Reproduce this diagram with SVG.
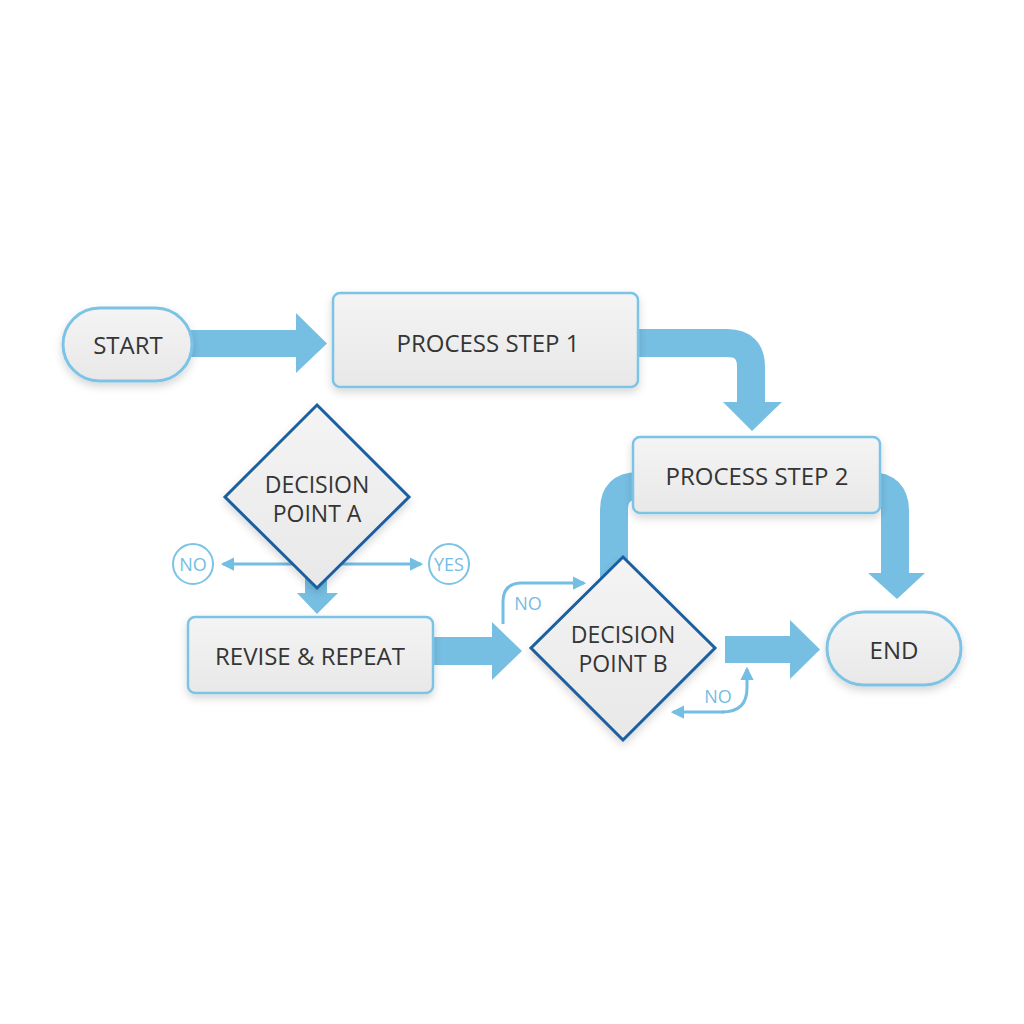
<svg xmlns="http://www.w3.org/2000/svg" width="1024" height="1024" viewBox="0 0 1024 1024">
<defs>
<linearGradient id="nodeFill" x1="0" y1="0" x2="0" y2="1">
<stop offset="0" stop-color="#f4f4f4"/>
<stop offset="1" stop-color="#e8e8e9"/>
</linearGradient>
<filter id="shadow" x="-20%" y="-20%" width="140%" height="150%">
<feDropShadow dx="0" dy="4" stdDeviation="4" flood-color="#000" flood-opacity="0.16"/>
</filter>
<marker id="ah" viewBox="0 0 12 12" refX="10" refY="6" markerWidth="4.5" markerHeight="4.5" orient="auto-start-reverse" markerUnits="strokeWidth">
<path d="M0 0 L12 6 L0 12 Z" fill="#74bde3"/>
</marker>
</defs>
<style>
.bg{fill:#ffffff}
.term{fill:url(#nodeFill);stroke:#7cc3e6;stroke-width:3;filter:url(#shadow)}
.proc{fill:url(#nodeFill);stroke:#7cc3e6;stroke-width:2.5;filter:url(#shadow)}
.dec{fill:url(#nodeFill);stroke:#1b5e9f;stroke-width:3;filter:url(#shadow)}
.lbl{font-family:"Open Sans","Noto Sans","Liberation Sans",sans-serif;font-size:24px;fill:#353535;text-anchor:middle;dominant-baseline:central}
.dlbl{font-family:"Open Sans","Noto Sans","Liberation Sans",sans-serif;font-size:23px;fill:#353535;text-anchor:middle}
.small{font-family:"Open Sans","Noto Sans","Liberation Sans",sans-serif;font-size:18px;fill:#74bde3;text-anchor:middle;dominant-baseline:central}
.band{fill:none;stroke:#76bfe3;stroke-width:28;stroke-linecap:butt}
.fat{fill:#76bfe3}
.thin{fill:none;stroke:#74bde3;stroke-width:3;marker-end:url(#ah)}
.circ{fill:#ffffff;stroke:#7cc3e6;stroke-width:2}
</style>
<rect class="bg" x="0" y="0" width="1024" height="1024"/>

<g id="connectors">
<!-- START -> PROCESS STEP 1 -->
<rect class="fat" x="188" y="330" width="110" height="27"/>
<path class="fat" d="M296 313 L327 343.5 L296 373 Z"/>
<!-- PROCESS STEP 1 -> PROCESS STEP 2 -->
<path class="band" d="M630 343 H727 Q751 343 751 367 V404"/>
<path class="fat" d="M723 402 L782 402 L752 431 Z"/>
<!-- PROCESS STEP 2 -> DECISION B (left band) -->
<path class="band" d="M645 486 H638 Q614 486 614 510 V590"/>
<!-- PROCESS STEP 2 -> END (right band) -->
<path class="band" d="M870 486 Q895 486 895 511 V575"/>
<path class="fat" d="M868 573 L925 573 L897 599 Z"/>
<!-- DECISION A -> REVISE -->
<rect class="fat" x="305" y="560" width="22" height="35"/>
<path class="fat" d="M297 593 L338 593 L317 614 Z"/>
<!-- REVISE -> DECISION B -->
<rect class="fat" x="431" y="637" width="63" height="28"/>
<path class="fat" d="M492 622 L522 651 L492 680 Z"/>
<!-- DECISION B -> END -->
<rect class="fat" x="725" y="636" width="67" height="27"/>
<path class="fat" d="M790 620 L820 649.5 L790 679 Z"/>
<!-- NO / YES from DECISION A -->
<path class="thin" d="M300 564 H223"/>
<path class="thin" d="M334 564 H421"/>
<!-- NO loops at DECISION B -->
<path class="thin" d="M503 624 V602 Q503 583 522 583 H584"/>
<path class="thin" d="M724 712 H673"/>
<path class="thin" d="M722 712 Q747 712 747 688 V669"/>
</g>

<g id="start">
<rect class="term" x="63" y="308" width="129" height="73" rx="36.5"/>
<text class="lbl" x="128" y="344.5">START</text>
</g>

<g id="process1">
<rect class="proc" x="333" y="293" width="305" height="94" rx="7"/>
<text class="lbl" x="488" y="342">PROCESS STEP 1</text>
</g>

<g id="process2">
<rect class="proc" x="633" y="437" width="247" height="76" rx="7"/>
<text class="lbl" x="757" y="475">PROCESS STEP 2</text>
</g>

<g id="decisionA">
<path class="dec" d="M317 405 L409 497 L317 588 L225 497 Z"/>
<text class="dlbl" x="317" y="493"><tspan x="317" y="493">DECISION</tspan><tspan x="317" y="522">POINT A</tspan></text>
</g>

<g id="labelNoA">
<circle class="circ" cx="193" cy="564" r="20"/>
<text class="small" x="193" y="564">NO</text>
</g>

<g id="labelYesA">
<circle class="circ" cx="449" cy="564" r="20"/>
<text class="small" x="449" y="564">YES</text>
</g>

<g id="revise">
<rect class="proc" x="188" y="617" width="245" height="76" rx="7"/>
<text class="lbl" x="310" y="655">REVISE &amp; REPEAT</text>
</g>

<g id="decisionB">
<path class="dec" d="M623 557 L715 648 L623 740 L531 648 Z"/>
<text class="dlbl" x="623" y="643"><tspan x="623" y="643">DECISION</tspan><tspan x="623" y="672">POINT B</tspan></text>
</g>

<g id="labelNoB1">
<text class="small" x="528" y="603">NO</text>
</g>

<g id="labelNoB2">
<text class="small" x="718" y="696">NO</text>
</g>

<g id="end">
<rect class="term" x="827" y="612" width="134" height="73" rx="36.5"/>
<text class="lbl" x="894" y="649">END</text>
</g>
</svg>
